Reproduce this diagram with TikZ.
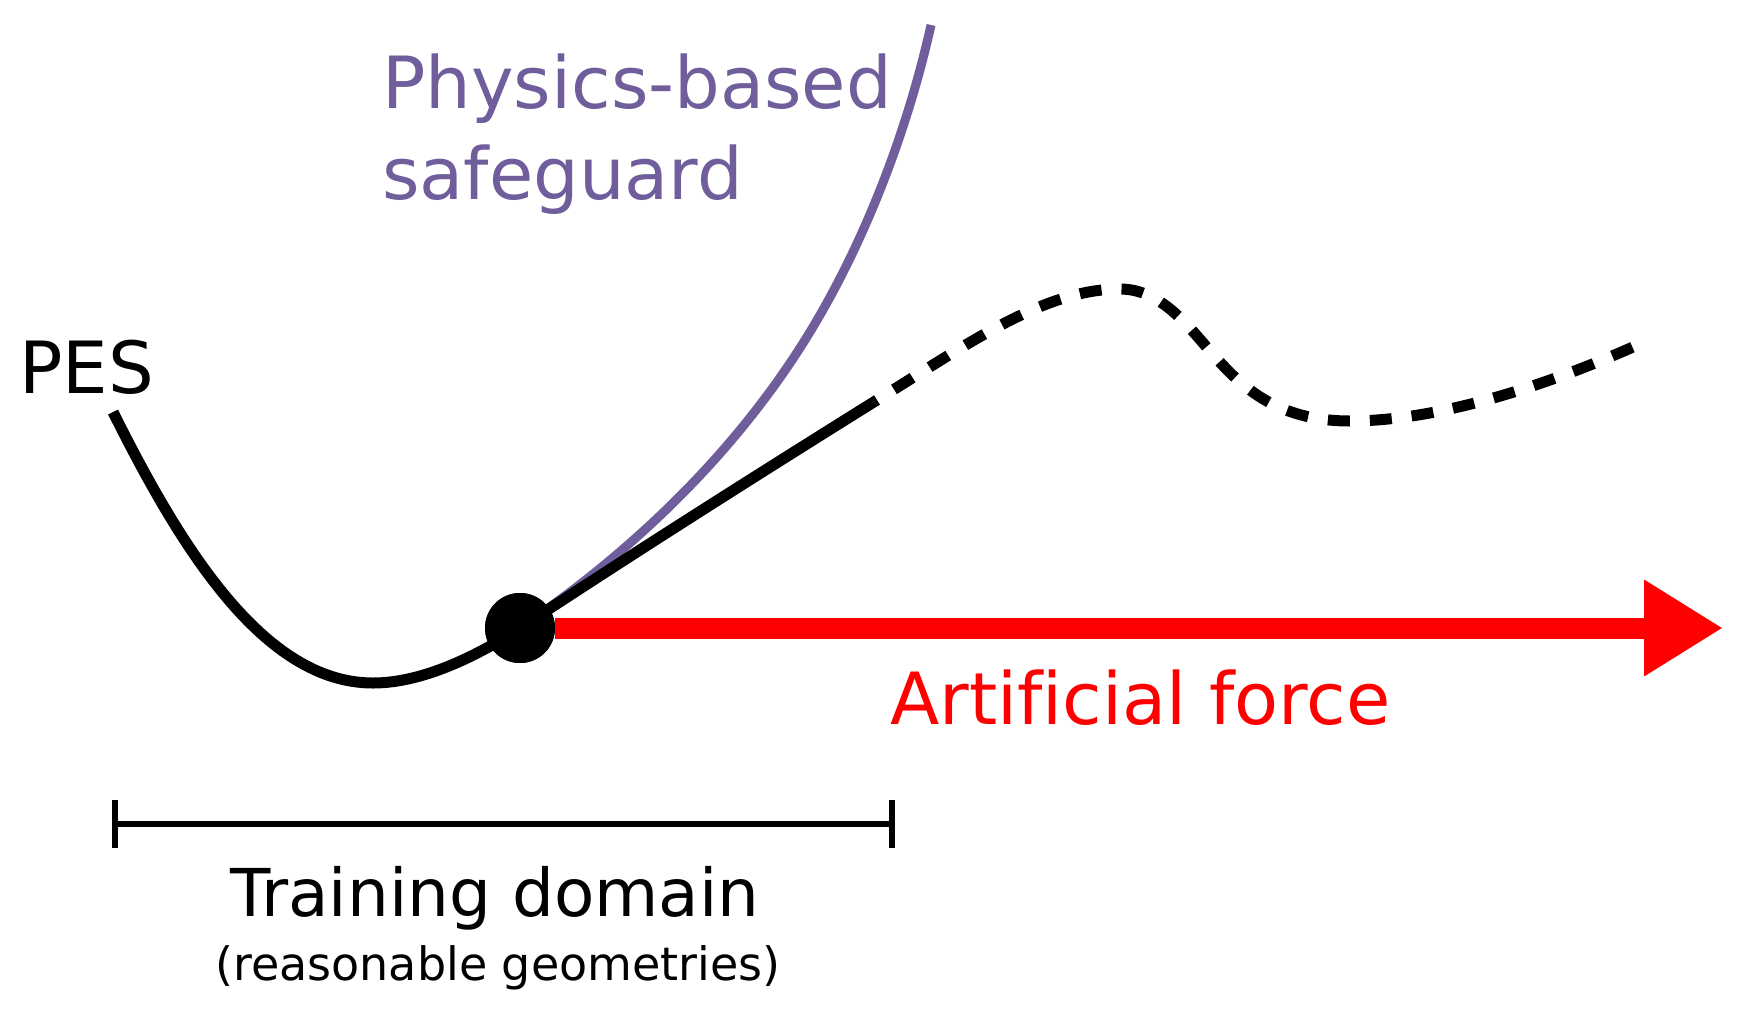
\documentclass[tikz,border=0pt]{standalone}
\usepackage{fontspec}
\setmainfont[Ligatures=NoCommon]{DejaVu Sans}
\usetikzlibrary{arrows.meta}
\definecolor{safepurple}{RGB}{112,94,156}
\definecolor{forcered}{RGB}{255,0,0}
\tikzset{
  bigtext/.style={inner sep=0pt, font=\fontsize{72}{86}\selectfont},
  midtext/.style={inner sep=0pt, font=\fontsize{66}{79}\selectfont},
  smalltext/.style={inner sep=0pt, font=\fontsize{46}{55}\selectfont},
  pesline/.style={line width=11pt, black},
  pesdash/.style={line width=11pt, black, dash pattern=on 22pt off 20pt, dash phase=22pt},
  guardline/.style={line width=9pt, safepurple},
  forcearrow/.style={line width=21pt, forcered, -{Triangle[length=79pt,width=91pt]}},
  barline/.style={line width=6pt, black},
}
\begin{document}
\begin{tikzpicture}[x=1pt,y=-1pt]
\useasboundingbox[fill=white] (0,0) rectangle (1752,1012);

\coordinate (cur) at (520,628);
\coordinate (solidend) at (877,400);

% physics-based safeguard curve
\draw[guardline] (cur) .. controls (632,552) and (733.4,454.5) .. (805,340)
                       .. controls (863.3,246.7) and (907.1,132.4) .. (931,25);

% PES, solid part
\draw[pesline] (113,412) .. controls (180,546) and (263,683) .. (373,683)
                         .. controls (423,683) and (478,655.5) .. (cur)
                         .. controls (640,549) and (760,473) .. (solidend);
% PES, dashed extrapolation
\draw[pesdash] (solidend) .. controls (970.5,342) and (1045,289) .. (1120,289)
                          .. controls (1160,289) and (1187,324.6) .. (1210,351)
                          .. controls (1239.5,385) and (1275,421) .. (1350,421)
                          .. controls (1440,421) and (1551,384) .. (1642,343);

% current point and artificial force
\node[circle, fill=black, inner sep=0pt, minimum size=70pt] (dot) at (cur) {};
\coordinate (tip) at (1723,628);
\draw[forcearrow] (dot.east) -- (tip);
\fill[black] (dot) circle[radius=35pt];

% labels
\node[bigtext, anchor=base west] (pes) at (19,393) {PES};
\node[bigtext, anchor=base west, text=safepurple] (psg1) at (382,108) {Physics-based};
\node[bigtext, anchor=base west, text=safepurple] (psg2) at (382,199) {safeguard};
\node[bigtext, anchor=base west, text=forcered] (force) at (890,724) {Artificial force};

% training domain bar
\coordinate (bl) at (115,824);
\coordinate (br) at (892,824);
\coordinate (blt) at (115,800);
\coordinate (blb) at (115,848);
\coordinate (brt) at (892,800);
\coordinate (brb) at (892,848);
\draw[barline] (bl) -- (br);
\draw[barline] (blt) -- (blb);
\draw[barline] (brt) -- (brb);
\node[midtext, anchor=base] (train) at (495,916) {Training domain};
\node[smalltext, anchor=base] (reason) at (498,980) {(reasonable geometries)};
\end{tikzpicture}
\end{document}
